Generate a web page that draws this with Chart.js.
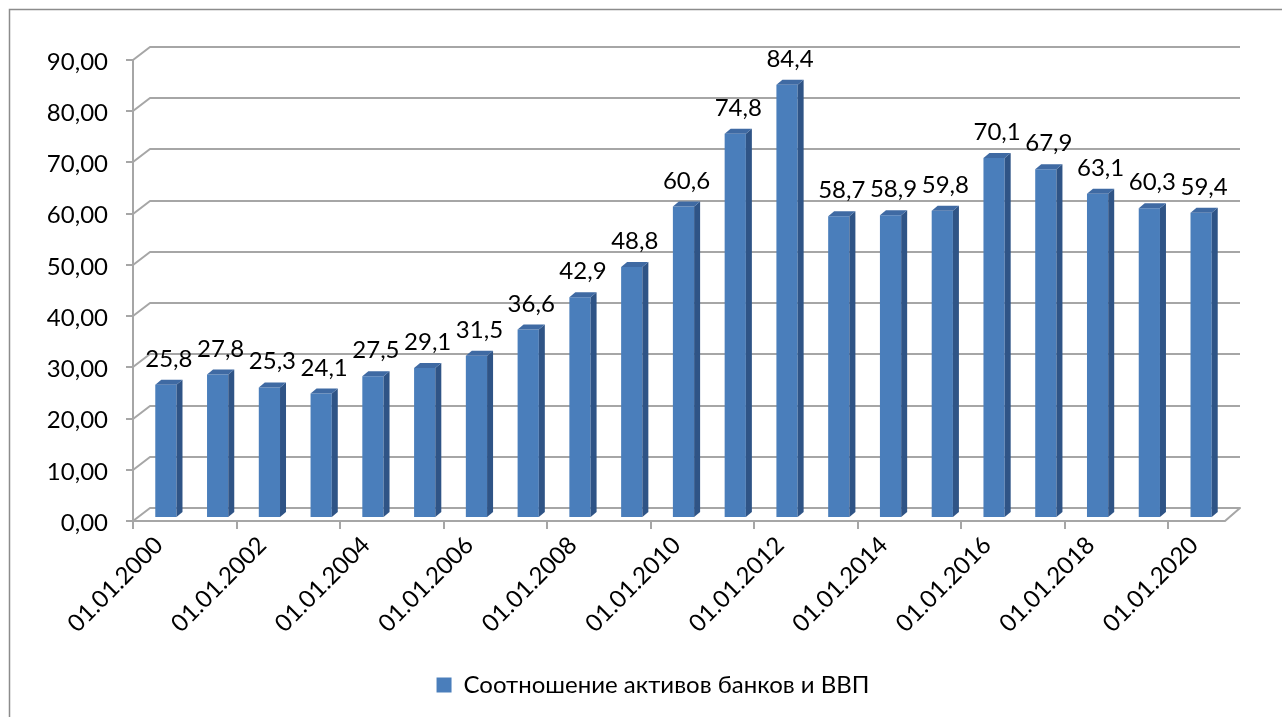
<!DOCTYPE html>
<html>
<head>
<meta charset="utf-8">
<script src="https://cdn.jsdelivr.net/npm/chart.js@4.4.1/dist/chart.umd.min.js"></script>
<style>
  html, body { margin: 0; padding: 0; background: #ffffff; }
  canvas { display: block; }
</style>
</head>
<body>
<canvas id="c" width="1282" height="717"></canvas>
<script>
const categories = ['01.01.2000','01.01.2001','01.01.2002','01.01.2003','01.01.2004','01.01.2005','01.01.2006','01.01.2007','01.01.2008','01.01.2009','01.01.2010','01.01.2011','01.01.2012','01.01.2013','01.01.2014','01.01.2015','01.01.2016','01.01.2017','01.01.2018','01.01.2019','01.01.2020'];
const seriesName = 'Соотношение активов банков и ВВП';
const ratioValues = [25.8, 27.8, 25.3, 24.1, 27.5, 29.1, 31.5, 36.6, 42.9, 48.8, 60.6, 74.8, 84.4, 58.7, 58.9, 59.8, 70.1, 67.9, 63.1, 60.3, 59.4];
const yMin = 0, yMax = 90, yStep = 10;

const FONT = "Lato, 'Open Sans', 'Noto Sans', sans-serif";
const GRID = '#a6a6a6';
const DEPTH = { dx: 17, dy: -13 };
const BAR_SHIFT = { dx: 7, dy: -4 };
const BAR_DEPTH = { dx: 6, dy: -5 };
const comma = (v, d) => v.toFixed(d).replace('.', ',');

const frame3d = {
  id: 'frame3d',
  beforeDraw(chart) {
    const ctx = chart.ctx;
    ctx.save();
    ctx.fillStyle = '#ffffff';
    ctx.fillRect(0, 0, chart.width, chart.height);
    ctx.strokeStyle = '#8c8c8c';
    ctx.lineWidth = 1.5;
    ctx.beginPath();
    ctx.moveTo(9.5, chart.height + 5);
    ctx.lineTo(9.5, 9.5);
    ctx.lineTo(chart.width + 5, 9.5);
    ctx.stroke();
    ctx.restore();
  },
  beforeDatasetsDraw(chart) {
    const ctx = chart.ctx;
    const { left, right, top, bottom } = chart.chartArea;
    const ys = chart.scales.y, xs = chart.scales.x;
    ctx.save();
    ctx.strokeStyle = GRID;
    ctx.lineWidth = 2;
    ctx.lineJoin = 'round';
    ctx.beginPath();
    ys.ticks.forEach(t => {
      const py = Math.round(ys.getPixelForValue(t.value));
      ctx.moveTo(left - 7, py); ctx.lineTo(left, py);
      if (t.value !== yMin) {
        ctx.moveTo(left, py);
        ctx.lineTo(left + DEPTH.dx, py + DEPTH.dy);
        ctx.lineTo(right + 20, py + DEPTH.dy);
      }
    });
    const b = Math.round(bottom);
    ctx.moveTo(left, b);
    ctx.lineTo(left + DEPTH.dx, b + DEPTH.dy);
    ctx.lineTo(right + 20, b + DEPTH.dy);
    ctx.lineTo(right + 5, b);
    ctx.lineTo(left, b);
    ctx.moveTo(left, Math.round(top));
    ctx.lineTo(left, b);
    const n = categories.length;
    const w = xs.getPixelForValue(1) - xs.getPixelForValue(0);
    for (let i = 0; i < n; i += 2) {
      const bx = Math.round(xs.getPixelForValue(i) - w / 2);
      ctx.moveTo(bx, b); ctx.lineTo(bx, b + 8);
    }
    ctx.stroke();
    ctx.restore();
    ctx.save();
    ctx.translate(BAR_SHIFT.dx, BAR_SHIFT.dy);
  },
  afterDatasetsDraw(chart) {
    const ctx = chart.ctx;
    const meta = chart.getDatasetMeta(0);
    meta.data.forEach(bar => {
      const hw = bar.width / 2;
      const xl = bar.x - hw, xr = bar.x + hw, yt = bar.y, yb = bar.base;
      ctx.fillStyle = '#2f5486';
      ctx.beginPath();
      ctx.moveTo(xr, yt);
      ctx.lineTo(xr + BAR_DEPTH.dx, yt + BAR_DEPTH.dy);
      ctx.lineTo(xr + BAR_DEPTH.dx, yb + BAR_DEPTH.dy);
      ctx.lineTo(xr, yb);
      ctx.closePath();
      ctx.fill();
      ctx.fillStyle = '#3f6aa3';
      ctx.beginPath();
      ctx.moveTo(xl, yt);
      ctx.lineTo(xl + BAR_DEPTH.dx, yt + BAR_DEPTH.dy);
      ctx.lineTo(xr + BAR_DEPTH.dx, yt + BAR_DEPTH.dy);
      ctx.lineTo(xr, yt);
      ctx.closePath();
      ctx.fill();
    });
    ctx.restore();
    ctx.save();
    ctx.fillStyle = '#000000';
    ctx.font = '24px ' + FONT;
    ctx.textAlign = 'center';
    ctx.textBaseline = 'alphabetic';
    meta.data.forEach((bar, i) => {
      ctx.fillText(comma(ratioValues[i], 1), bar.x + BAR_SHIFT.dx + 3, bar.y + BAR_SHIFT.dy - 18);
    });
    ctx.restore();
  }
};

new Chart(document.getElementById('c'), {
  type: 'bar',
  data: {
    labels: categories,
    datasets: [{
      label: seriesName,
      data: ratioValues,
      backgroundColor: '#4a7ebb',
      borderWidth: 0,
      categoryPercentage: 1,
      barPercentage: 0.41,
      clip: false
    }]
  },
  options: {
    responsive: false,
    devicePixelRatio: 1,
    animation: false,
    events: [],
    layout: { padding: { left: 24, right: 0, top: 60, bottom: 10 } },
    plugins: {
      legend: {
        display: true,
        position: 'bottom',
        labels: {
          boxWidth: 15, boxHeight: 15, padding: 10,
          color: '#000000',
          font: { family: FONT, size: 24 }
        }
      },
      tooltip: { enabled: false }
    },
    scales: {
      x: {
        offset: true,
        grid: { display: false, drawTicks: false },
        border: { display: false },
        afterFit(s) { s.height = 142; },
        ticks: {
          autoSkip: false,
          minRotation: 45, maxRotation: 45,
          padding: 10,
          color: '#000000',
          font: { family: FONT, size: 24 },
          callback(v, i) { return i % 2 === 0 ? categories[i] : ''; }
        }
      },
      y: {
        min: yMin, max: yMax,
        grid: { display: false, drawTicks: false },
        border: { display: false },
        afterFit(s) { s.width = 109; },
        ticks: {
          stepSize: yStep,
          padding: 25,
          labelOffset: 2,
          color: '#000000',
          font: { family: FONT, size: 24 },
          callback(v) { return comma(v, 2); }
        }
      },
      yRight: {
        type: 'linear',
        position: 'right',
        min: yMin, max: yMax,
        grid: { display: false, drawTicks: false },
        border: { display: false },
        ticks: { display: false },
        afterFit(s) { s.width = 62; }
      }
    }
  },
  plugins: [frame3d]
});
</script>
</body>
</html>
